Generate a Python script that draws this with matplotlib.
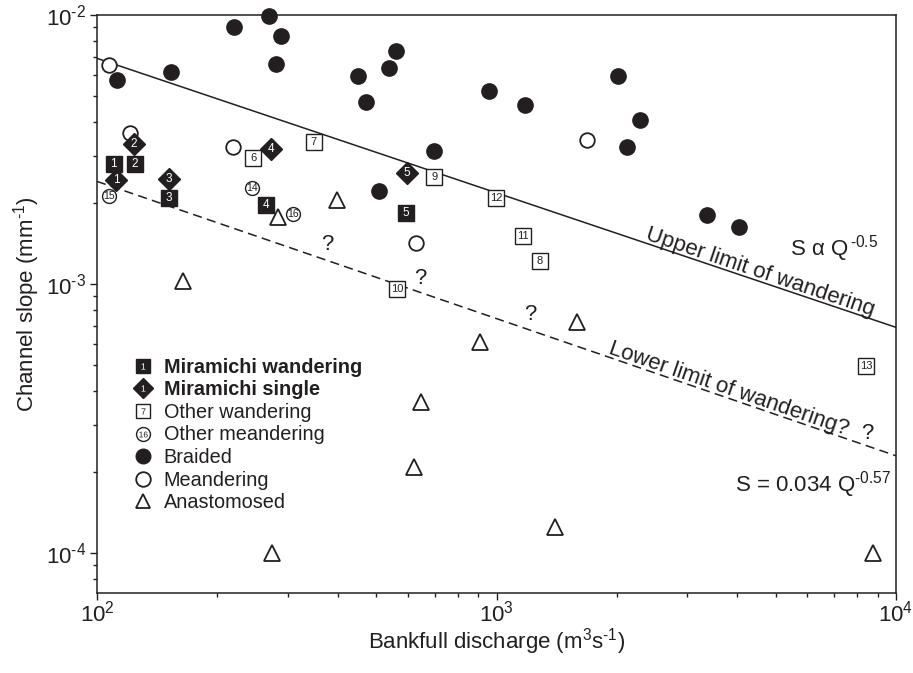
import numpy as np
import matplotlib
matplotlib.use("Agg")
import matplotlib.pyplot as plt
from matplotlib.lines import Line2D
from matplotlib.ticker import FuncFormatter, LogLocator

plt.rcParams['font.family'] = ['Liberation Sans', 'DejaVu Sans']
plt.rcParams['mathtext.default'] = 'regular'
plt.rcParams['axes.unicode_minus'] = False

INK = '#231f20'
HY = '\u2010'   # short hyphen, mathtext turns '-' into a long minus

# ── Data (bankfull discharge Q in m3/s, slope S) ─────────────────
braided_q = [112, 153, 220, 269, 289, 281, 450, 471, 538, 560, 698, 508,
             957, 1178, 2014, 2287, 2122, 3365, 4046]
braided_s = [0.00573, 0.00614, 0.00902, 0.0099, 0.00835, 0.00658, 0.00593,
             0.00475, 0.00635, 0.00734, 0.00312, 0.00222, 0.00522, 0.00463,
             0.00593, 0.00407, 0.00323, 0.00180, 0.00163]

meander_q = [107, 121, 219, 629, 1685]
meander_s = [0.00652, 0.00364, 0.00323, 0.00142, 0.00343]

other_meander_id = [14, 15, 16]
other_meander_q = [244, 107, 309]
other_meander_s = [0.00228, 0.00212, 0.00182]

other_wander_id = [6, 7, 8, 9, 10, 11, 12, 13]
other_wander_q = [246, 349, 1285, 698, 563, 1165, 997, 8414]
other_wander_s = [0.00294, 0.00337, 0.00122, 0.00250, 0.000958, 0.00151,
                  0.00209, 0.000495]

mira_wander_id = [1, 2, 3, 4, 5]
mira_wander_q = [110, 124.5, 151, 265, 594]
mira_wander_s = [0.00279, 0.00279, 0.00209, 0.00197, 0.00184]

mira_single_id = [1, 2, 3, 4, 5]
mira_single_q = [111.6, 123.8, 151, 272.6, 597]
mira_single_s = [0.00243, 0.00331, 0.00246, 0.00318, 0.00259]

anast_q = [164, 284, 399, 647, 622, 274, 909, 1591, 1401, 8759]
anast_s = [0.001026, 0.00177, 0.00205, 0.000364, 0.000209, 0.000100,
           0.000609, 0.000722, 0.000125, 0.000100]

query_q = [376, 643, 1213, 8455]
query_s = [0.0014, 0.00105, 0.000767, 0.000279]

# threshold lines S = c * Q^b
UPPER_C, UPPER_B = 0.069, -0.5
LOWER_C, LOWER_B = 0.0252, -0.51

# ── Figure ───────────────────────────────────────────────────────
fig = plt.figure(figsize=(9.13, 6.73), dpi=100)
ax = fig.add_axes([97 / 913, 1 - 593 / 673, 799 / 913, 578 / 673])
ax.set_xscale('log')
ax.set_yscale('log')
ax.set_xlim(1e2, 1e4)
ax.set_ylim(10 ** (-2 - 578 / 269), 1e-2)

q = np.logspace(2, 4, 100)
ax.plot(q, UPPER_C * q ** UPPER_B, color=INK, lw=1.1, zorder=2)
ax.plot(q, LOWER_C * q ** LOWER_B, color=INK, lw=1.1, dashes=(6, 3.5), zorder=2)

ax.plot(braided_q, braided_s, 'o', ms=11, mfc=INK, mec=INK, clip_on=False, zorder=4)
ax.plot(meander_q, meander_s, 'o', ms=10.5, mfc='white', mec=INK, mew=1.3, zorder=4)
ax.plot(anast_q, anast_s, '^', ms=11, mfc='white', mec=INK, mew=1.3, zorder=4)
ax.plot(other_meander_q, other_meander_s, 'o', ms=10, mfc='white', mec=INK, mew=1.0, zorder=4)
ax.plot(other_wander_q, other_wander_s, 's', ms=11, mfc='white', mec=INK, mew=1.0, zorder=4)
ax.plot(mira_wander_q, mira_wander_s, 's', ms=11, mfc=INK, mec=INK, zorder=5)
ax.plot(mira_single_q, mira_single_s, 'D', ms=11, mfc=INK, mec=INK, zorder=5)

# numbers inside the markers
for n, x, y in zip(other_meander_id, other_meander_q, other_meander_s):
    ax.text(x, y, str(n), ha='center', va='center', fontsize=7.5, color=INK, zorder=6)
for n, x, y in zip(other_wander_id, other_wander_q, other_wander_s):
    ax.text(x, y, str(n), ha='center', va='center', fontsize=8, color=INK, zorder=6)
for n, x, y in zip(mira_wander_id, mira_wander_q, mira_wander_s):
    ax.text(x, y, str(n), ha='center', va='center', fontsize=8.5, color='white', zorder=6)
for n, x, y in zip(mira_single_id, mira_single_q, mira_single_s):
    ax.text(x, y, str(n), ha='center', va='center', fontsize=8.5, color='white', zorder=6)

for x, y in zip(query_q, query_s):
    ax.text(x, y, '?', ha='center', va='center', fontsize=16, color=INK, zorder=6)


def line_angle(c, b):
    p1 = ax.transData.transform((1e2, c * 1e2 ** b))
    p2 = ax.transData.transform((1e4, c * 1e4 ** b))
    return np.degrees(np.arctan2(p2[1] - p1[1], p2[0] - p1[0]))


qu = 4515
ax.text(qu, UPPER_C * qu ** UPPER_B * 1.03, 'Upper limit of wandering', fontsize=16,
        color=INK, ha='center', va='baseline', rotation=line_angle(UPPER_C, UPPER_B),
        rotation_mode='anchor', zorder=6)
ql = 3777
ax.text(ql, LOWER_C * ql ** LOWER_B * 1.03, 'Lower limit of wandering?', fontsize=16,
        color=INK, ha='center', va='baseline', rotation=line_angle(LOWER_C, LOWER_B),
        rotation_mode='anchor', zorder=6)

ax.text(5429, 0.00128, 'S α Q$^{\\,' + HY + '0.5}$', fontsize=16, color=INK,
        ha='left', va='baseline')
ax.text(3955, 1.69e-4, 'S = 0.034 Q$^{' + HY + '0.57}$', fontsize=16, color=INK,
        ha='left', va='baseline')


# ── Legend ───────────────────────────────────────────────────────
def num_marker(marker, n, face, txt, ms, tscale):
    return (Line2D([], [], ls='', marker=marker, ms=ms, mfc=face, mec=INK, mew=1.0),
            Line2D([], [], ls='', marker='$%d$' % n, ms=ms * tscale, color=txt, mew=0))


handles = [
    num_marker('s', 1, INK, 'white', 10, 0.45),
    num_marker('D', 1, INK, 'white', 10.5, 0.42),
    num_marker('s', 7, 'white', INK, 10, 0.45),
    num_marker('o', 16, 'white', INK, 10, 0.6),
    Line2D([], [], ls='', marker='o', ms=10.5, mfc=INK, mec=INK),
    Line2D([], [], ls='', marker='o', ms=10.5, mfc='white', mec=INK, mew=1.3),
    Line2D([], [], ls='', marker='^', ms=10.5, mfc='white', mec=INK, mew=1.3),
]
labels = ['Miramichi wandering', 'Miramichi single', 'Other wandering',
          'Other meandering', 'Braided', 'Meandering', 'Anastomosed']
leg = ax.legend(handles, labels, loc='upper left', bbox_to_anchor=(0.045, 0.407),
                frameon=False, fontsize=14.3, handlelength=1.0, handletextpad=0.55,
                labelspacing=0.18, borderpad=0, borderaxespad=0)
for t in leg.get_texts()[:2]:
    t.set_fontweight('bold')
for t in leg.get_texts():
    t.set_color(INK)


# ── Axes styling ─────────────────────────────────────────────────
def pow10(v, pos):
    e = int(round(np.log10(v)))
    return '$10^{%s%d}$' % (HY if e < 0 else '', abs(e))


for axis in (ax.xaxis, ax.yaxis):
    axis.set_major_locator(LogLocator(base=10))
    axis.set_major_formatter(FuncFormatter(pow10))

for sp in ax.spines.values():
    sp.set_color(INK)
    sp.set_linewidth(1.1)
ax.tick_params(which='both', direction='out', top=False, right=False, colors=INK,
               labelsize=16, width=1.0)
ax.tick_params(which='major', length=5)
ax.tick_params(which='minor', length=3)
ax.tick_params(axis='x', which='major', pad=0.5)
ax.tick_params(axis='y', which='major', pad=3)
ax.set_xlabel('Bankfull discharge (m$^3$s$^{' + HY + '1}$)', fontsize=16, color=INK)
ax.set_ylabel('Channel slope (mm$^{' + HY + '1}$)', fontsize=16, color=INK)
ax.xaxis.set_label_coords(0.5, -0.058)
ax.yaxis.set_label_coords(-0.069, 0.5)

fig.savefig('out.png', dpi=100, facecolor='white')
